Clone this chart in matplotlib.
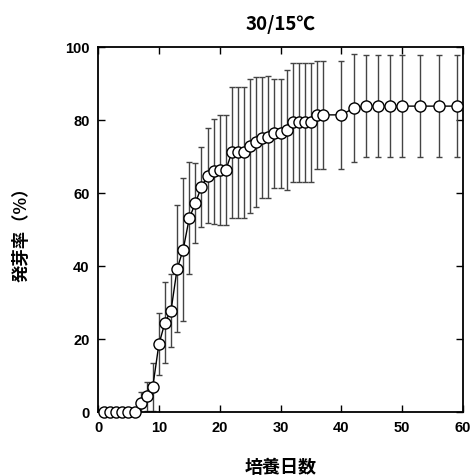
import matplotlib
matplotlib.use('Agg')
import matplotlib.pyplot as plt
from matplotlib.ticker import MultipleLocator

plt.rcParams['font.family'] = ['Liberation Sans', 'Noto Sans CJK JP', 'DejaVu Sans']
plt.rcParams['font.weight'] = 'bold'

# 培養日数 / 発芽率 (%) 平均と標準偏差
days = [1, 2, 3, 4, 5, 6, 7, 8, 9, 10, 11, 12, 13, 14, 15, 16, 17, 18, 19, 20,
        21, 22, 23, 24, 25, 26, 27, 28, 29, 30, 31, 32, 33, 34, 35, 36, 37,
        40, 42, 44, 46, 48, 50, 53, 56, 59]
rate = [0, 0, 0, 0, 0, 0, 2.5, 4.3, 6.9, 18.5, 24.5, 27.8, 39.2, 44.5, 53.1,
        57.2, 61.7, 64.7, 65.9, 66.3, 66.3, 71.1, 71.1, 71.1, 72.8, 73.9, 75.2,
        75.3, 76.3, 76.3, 77.2, 79.4, 79.4, 79.4, 79.4, 81.4, 81.4,
        81.4, 83.2, 83.8, 83.8, 83.8, 83.8, 83.8, 83.8, 83.8]
sd = [0, 0, 0, 0, 0, 0, 2.9, 4.0, 6.5, 8.5, 11.0, 10.0, 17.4, 19.5, 15.3,
      11.0, 11.0, 13.0, 14.4, 15.1, 15.1, 17.9, 17.9, 17.9, 18.4, 17.8, 16.7,
      16.7, 15.0, 15.0, 16.5, 16.3, 16.3, 16.3, 16.3, 14.7, 14.7,
      14.7, 14.8, 14.0, 14.0, 14.0, 14.0, 14.0, 14.0, 14.0]

fig = plt.figure(figsize=(4.74, 4.77), dpi=100)
ax = fig.add_axes([0.2068, 0.1342, 0.77, 0.7652])

ax.errorbar(days, rate, yerr=sd, fmt='none', ecolor='#444444',
            elinewidth=1.0, capsize=2.5, capthick=1.0, zorder=2)
ax.plot(days, rate, '-o', color='black', lw=1.0, ms=8,
        mfc='white', mec='black', mew=1.0, zorder=3, clip_on=False)

ax.set_xlim(0, 60)
ax.set_ylim(0, 100)
ax.xaxis.set_major_locator(MultipleLocator(10))
ax.yaxis.set_major_locator(MultipleLocator(20))
ax.tick_params(direction='in', length=5, width=1, top=True, right=True,
               labelsize=10.5, pad=6)
for lab in ax.get_xticklabels() + ax.get_yticklabels():
    lab.set_fontweight('bold')
for sp in ax.spines.values():
    sp.set_linewidth(1.3)

ax.set_title('30/15℃', fontsize=13.5, fontweight='bold',
             family=['Noto Sans CJK JP', 'DejaVu Sans'], pad=13)
ax.set_xlabel('培養日数', fontsize=13, fontweight='bold',
              family=['Noto Sans CJK JP', 'DejaVu Sans'], labelpad=16)
ax.set_ylabel('発芽率（%）', fontsize=12.5, fontweight='bold',
              family=['Noto Sans CJK JP', 'DejaVu Sans'], labelpad=25)

fig.savefig('out.png', dpi=100)
